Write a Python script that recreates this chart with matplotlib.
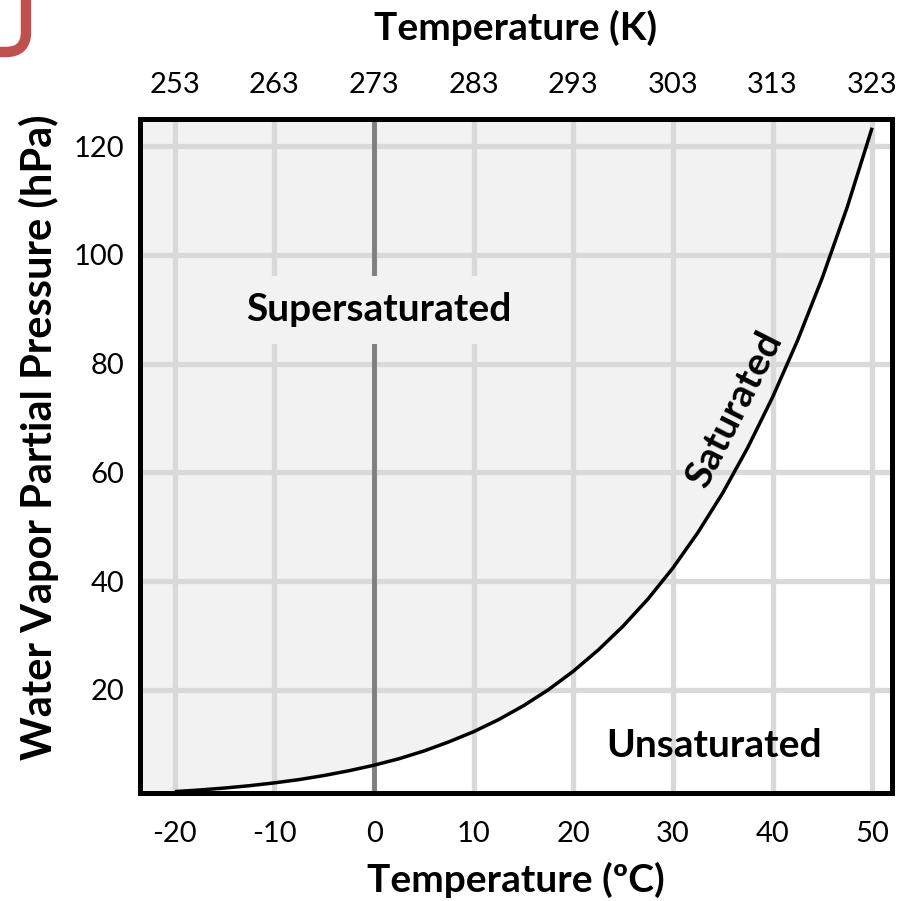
import numpy as np
import matplotlib.pyplot as plt
from matplotlib.path import Path
from matplotlib.patches import PathPatch
from matplotlib.transforms import IdentityTransform

plt.rcParams['font.family'] = ['Lato', 'DejaVu Sans']
plt.rcParams['axes.unicode_minus'] = False

# saturation vapour pressure over water
temp_c = [-20, -17.5, -15, -12.5, -10, -7.5, -5, -2.5, 0, 2.5, 5, 7.5, 10, 12.5,
          15, 17.5, 20, 22.5, 25, 27.5, 30, 32.5, 35, 37.5, 40, 42.5, 45, 47.5, 50]
p_sat = [1.25, 1.55, 1.91, 2.34, 2.86, 3.47, 4.22, 5.1, 6.11, 7.3, 8.72, 10.4,
         12.28, 14.5, 17.05, 20.0, 23.4, 27.3, 31.7, 36.7, 42.4, 48.9, 56.2,
         64.5, 73.8, 84.2, 95.8, 108.8, 123.4]

c_ticks = [-20, -10, 0, 10, 20, 30, 40, 50]
k_labels = ['253', '263', '273', '283', '293', '303', '313', '323']
p_ticks = [20, 40, 60, 80, 100, 120]

xmin, xmax = -23.5, 52
ymin, ymax = 1, 125
shade = '#f2f2f2'
grid_c = '#d9d9d9'

fig = plt.figure(figsize=(9.14, 9.01), dpi=100)
ax = fig.add_axes([0.1532, 0.1199, 0.8228, 0.748])
ax.set_xlim(xmin, xmax)
ax.set_ylim(ymin, ymax)

# supersaturated region above the curve
ax.axvspan(xmin, temp_c[0], color=shade, lw=0, zorder=0.2)
ax.fill_between(temp_c, p_sat, ymax, color=shade, lw=0, zorder=0.2)

for x in c_ticks:
    ax.axvline(x, color=grid_c, lw=3.8, zorder=0.5)
for y in p_ticks:
    ax.axhline(y, color=grid_c, lw=3.8, zorder=0.5)
ax.axvline(0, color='#7f7f7f', lw=3.5, zorder=0.6)

ax.plot(temp_c, p_sat, color='black', lw=2.5, zorder=3, solid_capstyle='butt')

for s in ax.spines.values():
    s.set_linewidth(3.6)
    s.set_zorder(4)

ax.set_xticks(c_ticks)
ax.set_yticks(p_ticks)
ax.tick_params(axis='x', length=0, pad=20, labelsize=21)
ax.tick_params(axis='y', length=0, pad=11, labelsize=21)

top = ax.twiny()
top.set_xlim(ax.get_xlim())
top.set_xticks(c_ticks)
top.set_xticklabels(k_labels)
top.tick_params(axis='x', length=0, pad=15, labelsize=21)
for s in top.spines.values():
    s.set_visible(False)

ax.set_xlabel('Temperature (ºC)', fontsize=28, fontweight='bold', labelpad=11)
ax.set_ylabel('Water Vapor Partial Pressure (hPa)', fontsize=30,
              fontweight='bold')
ax.yaxis.set_label_coords(-0.108, 0.528)
top.set_xlabel('Temperature (K)', fontsize=28, fontweight='bold', labelpad=23)

ax.text(0.5, 89.9, 'Supersaturated', fontsize=28, fontweight='bold',
        ha='center', va='center', zorder=2,
        bbox=dict(facecolor=shade, edgecolor='none', pad=12))
ax.text(36.2, 71.5, 'Saturated', fontsize=28, fontweight='bold',
        ha='center', va='center', rotation=63, zorder=2)
ax.text(34.1, 9.7, 'Unsaturated', fontsize=28, fontweight='bold',
        ha='center', va='center', zorder=2)

# red frame corner in the top-left
H = 901
verts = [(26, H), (26, H - 32), (26, H - 52), (6, H - 52), (-5, H - 52)]
codes = [Path.MOVETO, Path.LINETO, Path.CURVE3, Path.CURVE3, Path.LINETO]
fig.patches.append(PathPatch(Path(verts, codes), transform=IdentityTransform(),
                             facecolor='none', edgecolor='#c0504d', lw=7.5,
                             figure=fig))

fig.savefig('out.png', dpi=100)
